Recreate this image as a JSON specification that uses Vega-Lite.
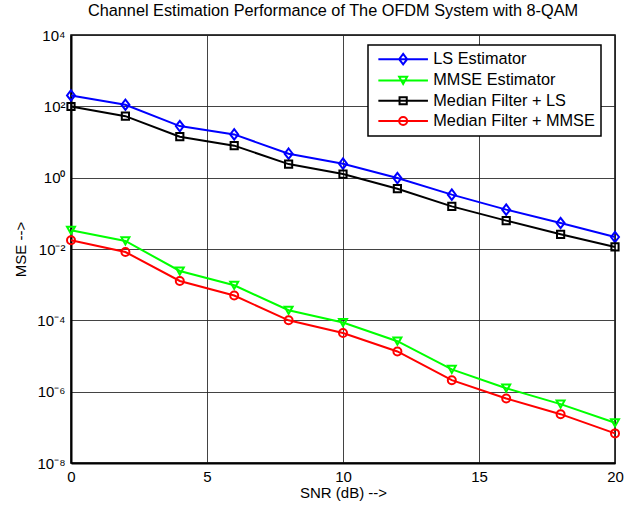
{
  "$schema": "https://vega.github.io/schema/vega-lite/v6.json",
  "width": 544,
  "height": 428,
  "autosize": {"type": "none"},
  "padding": {"left": 71, "top": 35, "right": 18, "bottom": 49},
  "background": "white",
  "title": {
    "text": "Channel Estimation Performance of The OFDM System with 8-QAM",
    "font": "Liberation Sans",
    "fontSize": 16.3,
    "fontWeight": "normal",
    "color": "black",
    "offset": 9,
    "dx": -10
  },
  "config": {
    "view": {"stroke": "black", "strokeWidth": 1.5},
    "axis": {
      "labelFont": "Liberation Sans",
      "labelFontSize": 15,
      "labelColor": "black",
      "titleFont": "Liberation Sans",
      "titleFontSize": 15,
      "titleFontWeight": "normal",
      "titleColor": "black",
      "grid": true,
      "gridColor": "#222222",
      "gridWidth": 1,
      "gridOpacity": 0.85,
      "ticks": false,
      "domainColor": "black",
      "domainWidth": 2,
      "labelFlush": false,
      "labelOverlap": false
    },
    "legend": {
      "orient": "none",
      "legendX": 297,
      "legendY": 10,
      "strokeColor": "black",
      "strokeWidth": 1.5,
      "fillColor": "white",
      "padding": 6,
      "labelFont": "Liberation Sans",
      "labelFontSize": 16.3,
      "labelColor": "black",
      "labelLimit": 300,
      "symbolOffset": 21,
      "labelOffset": 22,
      "rowPadding": 3.3,
      "symbolStrokeWidth": 2,
      "symbolSize": 64,
      "symbolOpacity": 1
    }
  },
  "data": {
    "values": [
      {"snr": 0, "mse": 202, "series": "LS Estimator"},
      {"snr": 2, "mse": 111, "series": "LS Estimator"},
      {"snr": 4, "mse": 27.9, "series": "LS Estimator"},
      {"snr": 6, "mse": 16.3, "series": "LS Estimator"},
      {"snr": 8, "mse": 4.7, "series": "LS Estimator"},
      {"snr": 10, "mse": 2.47, "series": "LS Estimator"},
      {"snr": 12, "mse": 0.975, "series": "LS Estimator"},
      {"snr": 14, "mse": 0.334, "series": "LS Estimator"},
      {"snr": 16, "mse": 0.127, "series": "LS Estimator"},
      {"snr": 18, "mse": 0.0535, "series": "LS Estimator"},
      {"snr": 20, "mse": 0.0217, "series": "LS Estimator"},
      {"snr": 0, "mse": 0.0334, "series": "MMSE Estimator"},
      {"snr": 2, "mse": 0.0168, "series": "MMSE Estimator"},
      {"snr": 4, "mse": 0.00242, "series": "MMSE Estimator"},
      {"snr": 6, "mse": 0.00096, "series": "MMSE Estimator"},
      {"snr": 8, "mse": 0.000192, "series": "MMSE Estimator"},
      {"snr": 10, "mse": 0.000087, "series": "MMSE Estimator"},
      {"snr": 12, "mse": 0.000026, "series": "MMSE Estimator"},
      {"snr": 14, "mse": 0.0000042, "series": "MMSE Estimator"},
      {"snr": 16, "mse": 0.00000125, "series": "MMSE Estimator"},
      {"snr": 18, "mse": 0.000000447, "series": "MMSE Estimator"},
      {"snr": 20, "mse": 0.000000134, "series": "MMSE Estimator"},
      {"snr": 0, "mse": 99, "series": "Median Filter + LS"},
      {"snr": 2, "mse": 53, "series": "Median Filter + LS"},
      {"snr": 4, "mse": 14.1, "series": "Median Filter + LS"},
      {"snr": 6, "mse": 7.9, "series": "Median Filter + LS"},
      {"snr": 8, "mse": 2.4, "series": "Median Filter + LS"},
      {"snr": 10, "mse": 1.26, "series": "Median Filter + LS"},
      {"snr": 12, "mse": 0.49, "series": "Median Filter + LS"},
      {"snr": 14, "mse": 0.157, "series": "Median Filter + LS"},
      {"snr": 16, "mse": 0.0625, "series": "Median Filter + LS"},
      {"snr": 18, "mse": 0.0258, "series": "Median Filter + LS"},
      {"snr": 20, "mse": 0.0114, "series": "Median Filter + LS"},
      {"snr": 0, "mse": 0.0175, "series": "Median Filter + MMSE"},
      {"snr": 2, "mse": 0.00824, "series": "Median Filter + MMSE"},
      {"snr": 4, "mse": 0.00127, "series": "Median Filter + MMSE"},
      {"snr": 6, "mse": 0.000495, "series": "Median Filter + MMSE"},
      {"snr": 8, "mse": 0.0001, "series": "Median Filter + MMSE"},
      {"snr": 10, "mse": 0.000044, "series": "Median Filter + MMSE"},
      {"snr": 12, "mse": 0.0000134, "series": "Median Filter + MMSE"},
      {"snr": 14, "mse": 0.0000021, "series": "Median Filter + MMSE"},
      {"snr": 16, "mse": 0.000000645, "series": "Median Filter + MMSE"},
      {"snr": 18, "mse": 0.000000234, "series": "Median Filter + MMSE"},
      {"snr": 20, "mse": 0.0000000676, "series": "Median Filter + MMSE"}
    ]
  },
  "encoding": {
    "x": {
      "field": "snr",
      "type": "quantitative",
      "scale": {"domain": [0, 20], "nice": false, "zero": false},
      "axis": {"values": [0, 5, 10, 15, 20], "title": "SNR (dB) -->", "labelPadding": 6, "titlePadding": 1}
    },
    "y": {
      "field": "mse",
      "type": "quantitative",
      "scale": {"type": "log", "domain": [1e-8, 10000], "nice": false},
      "axis": {
        "values": [1e-8, 1e-6, 0.0001, 0.01, 1, 100, 10000],
        "labelExpr": "'10' + (round(log(datum.value)/LN10) == 4 ? '⁴' : round(log(datum.value)/LN10) == 2 ? '²' : round(log(datum.value)/LN10) == 0 ? '⁰' : round(log(datum.value)/LN10) == -2 ? '⁻²' : round(log(datum.value)/LN10) == -4 ? '⁻⁴' : round(log(datum.value)/LN10) == -6 ? '⁻⁶' : '⁻⁸')",
        "title": "MSE -->",
        "labelPadding": 6,
        "titlePadding": 8
      }
    },
    "color": {
      "field": "series",
      "type": "nominal",
      "scale": {
        "domain": ["LS Estimator", "MMSE Estimator", "Median Filter + LS", "Median Filter + MMSE"],
        "range": ["#0000FF", "#00FF00", "#000000", "#FF0000"]
      },
      "legend": {"title": null}
    }
  },
  "layer": [
    {
      "mark": {"type": "line", "strokeWidth": 2}
    },
    {
      "mark": {"type": "point", "filled": false, "strokeWidth": 2, "size": 64, "opacity": 1},
      "encoding": {
        "shape": {
          "condition": [
            {"test": "datum.series === 'LS Estimator'", "value": "M0,-1.3L1,0L0,1.3L-1,0Z"},
            {"test": "datum.series === 'MMSE Estimator'", "value": "M-1,-0.9L1,-0.9L0,0.9Z"},
            {"test": "datum.series === 'Median Filter + LS'", "value": "M-0.9,-0.9H0.9V0.9H-0.9Z"}
          ],
          "value": "M-1,0A1,1,0,1,1,1,0A1,1,0,1,1,-1,0Z"
        }
      }
    },
    {
      "mark": {"type": "point", "filled": false, "strokeWidth": 2, "size": 64, "opacity": 0},
      "encoding": {
        "shape": {
          "field": "series",
          "type": "nominal",
          "scale": {
            "domain": ["LS Estimator", "MMSE Estimator", "Median Filter + LS", "Median Filter + MMSE"],
            "range": [
              "M0,-1.3L1,0L0,1.3L-1,0ZM-6.2,0H6.2",
              "M-1,-0.9L1,-0.9L0,0.9ZM-6.2,0H6.2",
              "M-0.9,-0.9H0.9V0.9H-0.9ZM-6.2,0H6.2",
              "M-1,0A1,1,0,1,1,1,0A1,1,0,1,1,-1,0ZM-6.2,0H6.2"
            ]
          },
          "legend": {"title": null}
        }
      }
    }
  ]
}
